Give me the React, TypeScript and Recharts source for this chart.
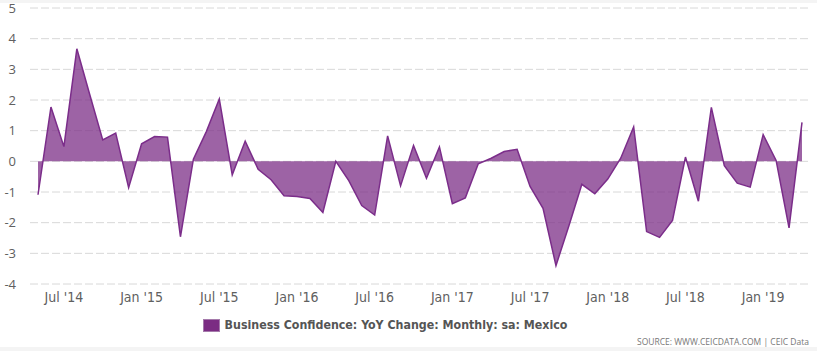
import { Area, AreaChart, CartesianGrid, XAxis, YAxis } from "recharts"

const months = [
  "2014-05", "2014-06", "2014-07", "2014-08", "2014-09", "2014-10", "2014-11", "2014-12",
  "2015-01", "2015-02", "2015-03", "2015-04", "2015-05", "2015-06", "2015-07", "2015-08",
  "2015-09", "2015-10", "2015-11", "2015-12", "2016-01", "2016-02", "2016-03", "2016-04",
  "2016-05", "2016-06", "2016-07", "2016-08", "2016-09", "2016-10", "2016-11", "2016-12",
  "2017-01", "2017-02", "2017-03", "2017-04", "2017-05", "2017-06", "2017-07", "2017-08",
  "2017-09", "2017-10", "2017-11", "2017-12", "2018-01", "2018-02", "2018-03", "2018-04",
  "2018-05", "2018-06", "2018-07", "2018-08", "2018-09", "2018-10", "2018-11", "2018-12",
  "2019-01", "2019-02", "2019-03", "2019-04",
]

const yoyChange = [
  -1.09, 1.77, 0.48, 3.67, 2.17, 0.7, 0.92, -0.86,
  0.57, 0.81, 0.79, -2.46, 0.07, 0.97, 2.03, -0.44,
  0.66, -0.26, -0.6, -1.12, -1.15, -1.21, -1.67, 0.0,
  -0.63, -1.44, -1.75, 0.83, -0.8, 0.52, -0.55, 0.47,
  -1.38, -1.19, -0.08, 0.1, 0.32, 0.39, -0.82, -1.53,
  -3.4, -2.1, -0.75, -1.06, -0.58, 0.1, 1.12, -2.29,
  -2.48, -1.93, 0.14, -1.3, 1.76, -0.14, -0.71, -0.84,
  0.87, 0.03, -2.17, 1.27,
]

const tickMonths = ["2014-07", "2015-01", "2015-07", "2016-01", "2016-07", "2017-01", "2017-07", "2018-01", "2018-07", "2019-01"]
const tickLabels = ["Jul '14", "Jan '15", "Jul '15", "Jan '16", "Jul '16", "Jan '17", "Jul '17", "Jan '18", "Jul '18", "Jan '19"]
const yTicks = [-4, -3, -2, -1, 0, 1, 2, 3, 4, 5]

const seriesName = "Business Confidence: YoY Change: Monthly: sa: Mexico"

const data = months.map((m, i) => ({ month: m, value: yoyChange[i] }))

const narrow = "'Liberation Sans Narrow', 'DejaVu Sans Condensed', sans-serif"

export default function App() {
  return (
    <div style={{ position: "absolute", left: 0, top: 0, width: 817, height: 351, background: "#fff" }}>
      <div style={{ position: "absolute", left: 0, top: 0, width: 817, height: 3, background: "#f4f4f4" }} />
      <AreaChart width={817} height={351} data={data} margin={{ top: 8, right: 9, left: 0, bottom: 37 }}>
        <CartesianGrid vertical={false} stroke="#d8d8d8" strokeDasharray="8 3" />
        <XAxis
          dataKey="month"
          ticks={tickMonths}
          interval={0}
          tickFormatter={(v) => tickLabels[tickMonths.indexOf(v)]}
          tickLine={false}
          axisLine={false}
          padding={{ left: 8, right: 6 }}
          height={30}
          tick={{ fill: "#606060", fontSize: 14, fontFamily: narrow }}
        />
        <YAxis
          domain={[-4, 5]}
          ticks={yTicks}
          interval={0}
          tickLine={false}
          axisLine={false}
          width={30}
          tickMargin={8}
          tick={{ fill: "#606060", fontSize: 13, fontFamily: "'Open Sans', sans-serif" }}
        />
        <Area
          type="linear"
          dataKey="value"
          baseValue={0}
          stroke="#7b2d8a"
          strokeWidth={1.5}
          fill="#7b2d85"
          fillOpacity={0.74}
          isAnimationActive={false}
          dot={false}
          activeDot={false}
        />
      </AreaChart>
      <div
        style={{
          position: "absolute",
          top: 318,
          left: 0,
          width: 770,
          display: "flex",
          justifyContent: "center",
          alignItems: "center",
          fontFamily: narrow,
          fontWeight: "bold",
          fontSize: 12.3,
          color: "#555",
        }}
      >
        <span style={{ display: "inline-block", width: 15, height: 11, background: "#7b2c83", border: "1px solid #a57aab", marginRight: 5 }} />
        {seriesName}
      </div>
      <div
        style={{
          position: "absolute",
          top: 336,
          right: 8,
          fontFamily: "'Open Sans', sans-serif",
          fontSize: 8.5,
          color: "#777",
        }}
      >
        SOURCE: WWW.CEICDATA.COM | CEIC Data
      </div>
      <div style={{ position: "absolute", left: 0, top: 347, width: 817, height: 4, background: "#f4f4f4" }} />
    </div>
  )
}
